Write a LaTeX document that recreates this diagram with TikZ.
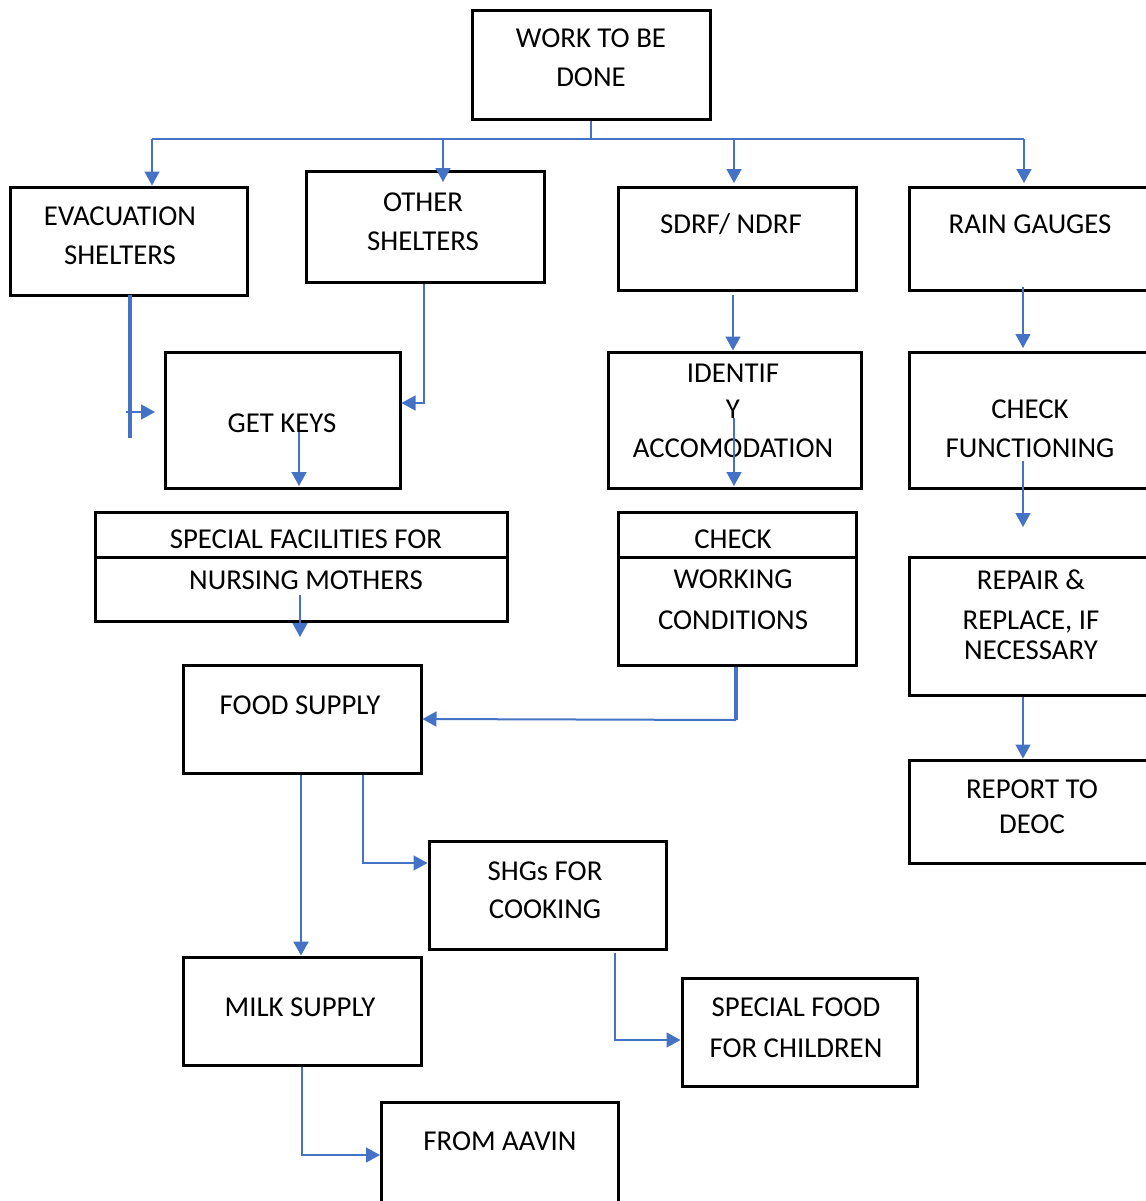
\documentclass[tikz,border=0pt]{standalone}
\usepackage{fontspec}
\setmainfont{Carlito}
\usetikzlibrary{arrows.meta,fit}
\definecolor{linkblue}{HTML}{4472C4}
\begin{document}
\begin{tikzpicture}[x=0.5pt,y=-0.5pt,
  box/.style={draw=black,line width=1.5pt,inner sep=0pt},
  txt/.style={align=center,font=\fontsize{14.4}{19.5}\selectfont,inner sep=0pt},
  plain/.style={draw=linkblue,line width=0.75pt},
  link/.style={plain,-{Triangle[length=7pt,width=7.5pt]}},
  heavy/.style={line width=1.7pt}]
\useasboundingbox (0,0) rectangle (1146,1201);
\fill[white] (0,0) rectangle (1146,1201);

% ---- boxes ----
\node[box,fit={(472,10)(710,119)}] (work) {};
\node[box,fit={(10,187)(247,295)}] (evac) {};
\node[box,fit={(306,171)(544,282)}] (other) {};
\node[box,fit={(618,187)(856,290)}] (sdrf) {};
\node[box,fit={(909,187)(1151,290)}] (rain) {};
\node[box,fit={(165,352)(400,488)}] (keys) {};
\node[box,fit={(608,352)(861,488)}] (ident) {};
\node[box,fit={(909,352)(1151,488)}] (func) {};
\node[box,fit={(95,512)(507,621)}] (facil) {};
\node[box,fit={(618,512)(856,665)}] (cond) {};
\node[box,fit={(909,557)(1151,695)}] (repair) {};
\node[box,fit={(909,760)(1151,863)}] (report) {};
\node[box,fit={(183,665)(421,773)}] (food) {};
\node[box,fit={(429,841)(666,949)}] (shg) {};
\node[box,fit={(183,957)(421,1065)}] (milk) {};
\node[box,fit={(682,978)(917,1086)}] (child) {};
\node[box,fit={(381,1102)(618,1210)}] (aavin) {};

% row dividers of the two table-like boxes
\draw[line width=1.5pt] (facil.west |- 0,557) -- (facil.east |- 0,557);
\draw[line width=1.5pt] (cond.west |- 0,557) -- (cond.east |- 0,557);

% ---- labels ----
\node[txt] (workT) at (591,58) {WORK TO BE\\DONE};
\node[txt] (evacT) at (120,236) {EVACUATION\\SHELTERS};
\node[txt] (otherT) at (423,222) {OTHER\\SHELTERS};
\node[txt] (sdrfT) at (731,224) {SDRF/ NDRF};
\node[txt] (rainT) at (1030,224) {RAIN GAUGES};
\node[txt] (keysT) at (282,423) {GET KEYS};
\node[txt] (identT) at (733,410.5) {IDENTIF\\[-1.5pt]Y\\ACCOMODATION};
\node[txt] (funcT) at (1030,428.5) {CHECK\\FUNCTIONING};
\node[txt] (facilT) at (306,559.5) {SPECIAL FACILITIES FOR\\[1pt]NURSING MOTHERS};
\node[txt] (condT) at (733,579.5) {CHECK\\[0.75pt]WORKING\\[0.75pt]CONDITIONS};
\node[txt] (repairT) at (1031,615) {REPAIR \&\\[0.5pt]REPLACE, IF\\[-4.5pt]NECESSARY};
\node[txt] (reportT) at (1032,806.5) {REPORT TO\\[-2pt]DEOC};
\node[txt] (foodT) at (300,705) {FOOD SUPPLY};
\node[txt] (shgT) at (545,890) {SHGs FOR\\[-0.5pt]COOKING};
\node[txt] (milkT) at (300,1007) {MILK SUPPLY};
\node[txt] (childT) at (796,1027.5) {SPECIAL FOOD\\[1pt]FOR CHILDREN};
\node[txt] (aavinT) at (500,1141) {FROM AAVIN};

% ---- top distribution bus ----
\coordinate (bus) at (591,139);
\coordinate (busL) at (152,139);
\coordinate (busO) at (443,139);
\coordinate (busS) at (734,139);
\coordinate (busR) at (1024,139);
\draw[plain] (work.south) -- (bus);
\draw[plain] (busL) -- (busR);
\draw[link] (busL) -- (busL |- evac.north);
\coordinate (otherIn) at (443,182);
\draw[link] (busO) -- (otherIn);
\coordinate (sdrfIn) at (734,183);
\draw[link] (busS) -- (sdrfIn);
\coordinate (rainIn) at (1024,183);
\draw[link] (busR) -- (rainIn);

% ---- shelters branch ----
\coordinate (evacDown) at (130,438);
\draw[plain,heavy] (130,295) -- (evacDown);
\coordinate (keysFrom) at (126,412);
\coordinate (keysIn) at (155,412);
\draw[link] (keysFrom) -- (keysIn);
\coordinate (otherDrop) at (424,403);
\draw[link] (other.south -| otherDrop) -- (otherDrop) -- (otherDrop -| keys.east);
\coordinate (keysA) at (299,432);
\coordinate (keysB) at (299,486);
\draw[link] (keysA) -- (keysB);
\coordinate (facilA) at (300,595);
\coordinate (facilB) at (300,637);
\draw[link] (facilA) -- (facilB);

% ---- SDRF branch ----
\coordinate (sdrfA) at (733,295);
\draw[link] (sdrfA) -- (sdrfA |- ident.north);
\coordinate (identA) at (734,418);
\coordinate (identB) at (734,486);
\draw[link] (identA) -- (identB);
\coordinate (condBend) at (736,720);
\draw[plain,heavy] (cond.south -| condBend) -- (condBend);
\draw[link,line width=1pt] (condBend) -- (food.east |- 0,719);

% ---- rain gauge branch ----
\coordinate (rainA) at (1023,287);
\coordinate (rainB) at (1023,348);
\draw[link] (rainA) -- (rainB);
\coordinate (funcA) at (1023,461);
\coordinate (funcB) at (1023,527);
\draw[link] (funcA) -- (funcB);
\draw[link] (repair.south -| 1023,0) -- (report.north -| 1023,0);

% ---- food branch ----
\draw[link,line width=1.2pt] (food.south -| 301,0) -- (milk.north -| 301,0);
\coordinate (shgBend) at (363,863);
\draw[link] (food.south -| shgBend) -- (shgBend) -- (shgBend -| shg.west);
\coordinate (childBend) at (615,1040);
\draw[link] (615,953) -- (childBend) -- (childBend -| child.west);
\coordinate (aavinBend) at (302,1155);
\draw[link] (milk.south -| aavinBend) -- (aavinBend) -- (380,1155);
\end{tikzpicture}
\end{document}
